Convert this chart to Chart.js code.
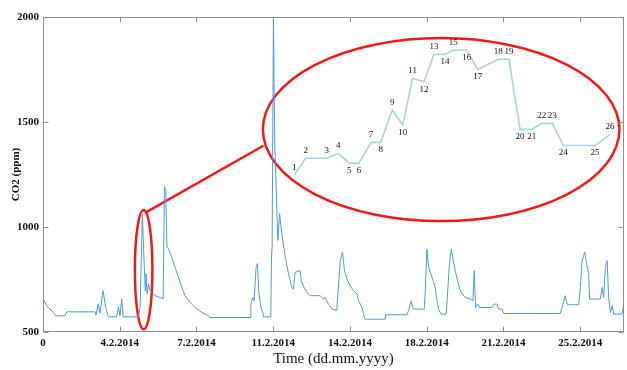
<!DOCTYPE html>
<html>
<head>
<meta charset="utf-8">
<script src="https://cdn.jsdelivr.net/npm/chart.js@4.4.1/dist/chart.umd.min.js"></script>
<style>
  html, body { margin: 0; padding: 0; background: #fff; }
  #wrap { width: 627px; height: 370px; position: relative; }
</style>
</head>
<body>
<div id="wrap"><canvas id="grafico"></canvas></div>
<script>
// time axis in days since the start of the record
const tickDays = [0, 3.5, 7, 10.5, 14, 17.5, 21, 24.5];
const tickLabels = ['0', '4.2.2014', '7.2.2014', '11.2.2014', '14.2.2014', '18.2.2014', '21.2.2014', '25.2.2014'];
const yTicks = [500, 1000, 1500, 2000];

const days = [
  0.00, 0.17, 0.32, 0.47, 0.59, 1.00, 1.08, 2.37, 2.42, 2.52, 2.60, 2.74, 2.86, 2.98, 3.36, 3.44, 3.51, 3.59, 3.66,
  4.35, 4.43, 4.53, 4.62, 4.67, 4.70, 4.75, 4.81, 4.88, 4.97, 5.11, 5.34, 5.48, 5.54, 5.60, 5.65, 5.72, 5.87,
  6.02, 6.18, 6.33, 6.48, 6.71, 6.94, 7.24, 7.47, 7.62, 9.45, 9.48, 9.57, 9.63, 9.72, 9.78, 9.85, 9.94, 10.03,
  10.05, 10.39, 10.42, 10.45, 10.51, 10.57, 10.71, 10.79, 10.89, 11.05, 11.20, 11.35, 11.42, 11.50, 11.73, 11.78,
  11.91, 12.04, 12.19, 12.64, 12.79, 12.87, 13.02, 13.18, 13.40, 13.48, 13.56, 13.66, 13.75, 13.86, 14.01, 14.16,
  14.32, 14.39, 14.55, 14.66, 14.70, 15.61, 15.62, 16.60, 16.67, 16.80, 16.86, 16.90, 17.39, 17.43, 17.51, 17.59,
  17.70, 17.79, 17.89, 17.97, 18.04, 18.15, 18.39, 18.45, 18.54, 18.62, 18.70, 18.80, 18.91, 19.00, 19.11, 19.26,
  19.49, 19.61, 19.67, 19.73, 19.82, 19.91, 20.48, 20.58, 20.71, 20.78, 20.94, 21.01, 23.60, 23.67, 23.82, 23.90,
  23.98, 24.43, 24.51, 24.59, 24.66, 24.71, 24.77, 24.89, 24.93, 25.42, 25.50, 25.57, 25.65, 25.73, 25.80, 25.88,
  25.96, 26.03, 26.41, 26.49, 26.50
];
const co2 = [
  660, 625, 610, 593, 577, 577, 596, 596, 580, 634, 590, 697, 617, 572, 572, 620, 577, 658, 572,
  572, 617, 1060, 808, 697, 778, 682, 730, 697, 688, 673, 664, 658, 1192, 1176, 904, 898, 856,
  808, 760, 712, 673, 641, 617, 593, 582, 569, 569, 634, 664, 649, 808, 826, 682, 617, 593,
  572, 572, 856, 904, 1990, 1400, 936, 1064, 970, 856, 776, 712, 705, 784, 792, 744,
  712, 688, 673, 673, 657, 664, 633, 609, 603, 729, 840, 880, 792, 753, 720, 697,
  681, 649, 617, 569, 561, 561, 582, 582, 601, 649, 617, 609, 609, 682, 896, 808,
  776, 744, 712, 649, 609, 585, 585, 681, 825, 896, 848, 792, 744, 705, 681, 664,
  657, 649, 792, 617, 633, 617, 617, 633, 633, 609, 609, 588, 588, 617, 673, 633,
  630, 630, 712, 840, 864, 880, 840, 776, 657, 657, 712, 664, 808, 840, 664, 593,
  625, 585, 585, 633, 649
];

// zoomed detail of the 5.2 peak (numbered samples)
const insetT = [0, 1.05, 2.99, 4.06, 5.08, 5.97, 7.08, 7.98, 9.05, 10.01, 10.93, 11.98, 12.9,
  13.92, 14.68, 15.92, 16.93, 18.84, 19.82, 20.84, 21.92, 22.84, 23.82, 24.84, 27.77, 29.15];
const insetCO2 = [620, 678, 678, 695, 661, 661, 733, 733, 845, 793, 955, 943, 1038,
  1038, 1053, 1053, 986, 1021, 1021, 778, 778, 799, 799, 722, 722, 761];
const insetSide = ['a', 'a', 'a', 'a', 'b', 'b', 'a', 'b', 'a', 'b', 'a', 'b', 'a',
  'b', 'a', 'b', 'b', 'a', 'a', 'b', 'b', 'a', 'a', 'b', 'b', 'a'];

// red marks (in data units of the main axes)
const smallRing = { x: 4.59, y: 797, rx: 0.4, ry: 284 };
const bigRing = { x: 18.16, y: 1464, rx: 8.13, ry: 436 };
const connector = [[4.65, 1067], [10.05, 1387]];

const serif = 'Liberation Serif, Times New Roman, serif';

function ring(ctx, sx, sy, r) {
  const cx = sx.getPixelForValue(r.x);
  const cy = sy.getPixelForValue(r.y);
  const rx = sx.getPixelForValue(r.x + r.rx) - cx;
  const ry = cy - sy.getPixelForValue(r.y + r.ry);
  ctx.beginPath();
  ctx.ellipse(cx, cy, rx, ry, 0, 0, Math.PI * 2);
  ctx.stroke();
}

const marcas = {
  id: 'marcas',
  beforeDatasetsDraw(chart) {
    const { ctx, scales: { x, y } } = chart;
    ctx.save();
    ctx.strokeStyle = '#ee1b1b';
    ctx.lineWidth = 2.5;
    ring(ctx, x, y, smallRing);
    ring(ctx, x, y, bigRing);
    ctx.beginPath();
    ctx.moveTo(x.getPixelForValue(connector[0][0]), y.getPixelForValue(connector[0][1]));
    ctx.lineTo(x.getPixelForValue(connector[1][0]), y.getPixelForValue(connector[1][1]));
    ctx.stroke();
    ctx.restore();
  },
  afterDatasetsDraw(chart) {
    const { ctx } = chart;
    const meta = chart.getDatasetMeta(1);
    ctx.save();
    ctx.fillStyle = '#111';
    ctx.font = '9px ' + serif;
    ctx.textAlign = 'center';
    meta.data.forEach((p, i) => {
      if (insetSide[i] === 'a') {
        ctx.textBaseline = 'bottom';
        ctx.fillText(String(i + 1), p.x, p.y - 3);
      } else {
        ctx.textBaseline = 'top';
        ctx.fillText(String(i + 1), p.x, p.y + 3);
      }
    });
    ctx.restore();
  },
  afterDraw(chart) {
    const { ctx, chartArea: a, scales: { x, y } } = chart;
    const L = Math.round(a.left) + 0.5, R = Math.round(a.right) - 0.5;
    const T = Math.round(a.top) + 0.5, B = Math.round(a.bottom) - 0.5;
    ctx.save();
    ctx.strokeStyle = '#8e8e8e';
    ctx.lineWidth = 1;
    ctx.strokeRect(L, T, R - L, B - T);
    ctx.beginPath();
    tickDays.forEach(v => {
      const px = Math.round(x.getPixelForValue(v)) + 0.5;
      ctx.moveTo(px, B); ctx.lineTo(px, B - 5);
      ctx.moveTo(px, T); ctx.lineTo(px, T + 5);
    });
    yTicks.forEach(v => {
      const py = Math.round(y.getPixelForValue(v)) + 0.5;
      ctx.moveTo(L, py); ctx.lineTo(L + 5, py);
      ctx.moveTo(R, py); ctx.lineTo(R - 5, py);
    });
    ctx.stroke();
    ctx.restore();
  }
};

new Chart(document.getElementById('grafico'), {
  type: 'line',
  data: {
    datasets: [{
      data: days.map((d, i) => ({ x: d, y: co2[i] })),
      borderColor: '#5099d6',
      borderWidth: 1,
      pointRadius: 0,
      tension: 0,
      xAxisID: 'x',
      yAxisID: 'y'
    }, {
      data: insetT.map((t, i) => ({ x: t, y: insetCO2[i] })),
      borderColor: '#a9d1ef',
      borderWidth: 1.6,
      pointRadius: 0,
      tension: 0,
      xAxisID: 'x2',
      yAxisID: 'y2'
    }]
  },
  options: {
    responsive: true,
    maintainAspectRatio: false,
    animation: false,
    layout: { padding: { top: 17, right: 3, left: 0, bottom: 0 } },
    plugins: {
      legend: { display: false },
      tooltip: { enabled: false }
    },
    scales: {
      x: {
        type: 'linear',
        min: 0,
        max: 26.5,
        afterBuildTicks: s => { s.ticks = tickDays.map(v => ({ value: v })); },
        afterFit: s => { s.height = 38; },
        grid: { display: false, drawTicks: false },
        border: { display: false },
        ticks: {
          autoSkip: false,
          maxRotation: 0,
          padding: 5,
          color: '#111',
          font: { family: serif, size: 11, weight: 'bold' },
          callback: (v, i) => tickLabels[i]
        },
        title: {
          display: true,
          text: 'Time (dd.mm.yyyy)',
          color: '#111',
          font: { family: serif, size: 15 },
          padding: { top: 0, bottom: 2 }
        }
      },
      y: {
        min: 500,
        max: 2000,
        afterBuildTicks: s => { s.ticks = yTicks.map(v => ({ value: v })); },
        afterFit: s => { s.width = 43; },
        grid: { display: false, drawTicks: false },
        border: { display: false },
        ticks: {
          padding: 4,
          color: '#111',
          font: { family: serif, size: 11, weight: 'bold' },
          callback: v => String(v)
        },
        title: {
          display: true,
          text: 'CO2 (ppm)',
          color: '#111',
          font: { family: serif, size: 11, weight: 'bold' },
          padding: { top: 10, bottom: 0 }
        }
      },
      x2: { type: 'linear', display: false, min: -23.2, max: 30.44 },
      y2: { display: false, min: 76, max: 1167.5 }
    }
  },
  plugins: [marcas]
});
</script>
</body>
</html>
